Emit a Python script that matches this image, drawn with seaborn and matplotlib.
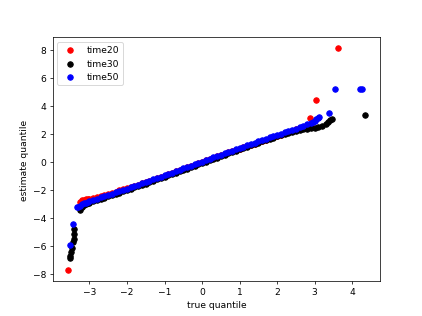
import matplotlib
matplotlib.use("Agg")
import matplotlib.pyplot as plt
import seaborn as sns
import pandas as pd

# shared grid of true quantiles for the dense middle part
x_mid = [-3.0, -2.9, -2.8, -2.7, -2.6, -2.5, -2.4, -2.3, -2.2, -2.1,
         -2.0, -1.9, -1.8, -1.7, -1.6, -1.5, -1.4, -1.3, -1.2, -1.1,
         -1.0, -0.9, -0.8, -0.7, -0.6, -0.5, -0.4, -0.3, -0.2, -0.1,
         0.0, 0.1, 0.2, 0.3, 0.4, 0.5, 0.6, 0.7, 0.8, 0.9,
         1.0, 1.1, 1.2, 1.3, 1.4, 1.5, 1.6, 1.7, 1.8, 1.9,
         2.0, 2.1, 2.2, 2.3, 2.4, 2.5, 2.6, 2.7, 2.8, 2.9]

time50_mid = [-2.80, -2.71, -2.62, -2.53, -2.44, -2.35, -2.26, -2.17, -2.08, -1.99,
              -1.90, -1.81, -1.72, -1.63, -1.53, -1.44, -1.34, -1.25, -1.15, -1.05,
              -0.96, -0.86, -0.76, -0.66, -0.56, -0.46, -0.37, -0.27, -0.17, -0.07,
              0.03, 0.13, 0.23, 0.33, 0.42, 0.52, 0.62, 0.71, 0.81, 0.91,
              1.00, 1.10, 1.19, 1.29, 1.38, 1.48, 1.57, 1.66, 1.75, 1.84,
              1.93, 2.02, 2.11, 2.20, 2.29, 2.38, 2.48, 2.58, 2.70, 2.82]

time20_mid = [-2.62, -2.55, -2.48, -2.41, -2.34, -2.27, -2.19, -2.11, -2.03, -1.95,
              -1.87, -1.79, -1.71, -1.62, -1.53, -1.44, -1.35, -1.26, -1.16, -1.06,
              -0.97, -0.87, -0.77, -0.67, -0.57, -0.47, -0.38, -0.28, -0.18, -0.08,
              0.02, 0.12, 0.21, 0.31, 0.40, 0.50, 0.59, 0.68, 0.78, 0.87,
              0.96, 1.05, 1.14, 1.23, 1.32, 1.41, 1.50, 1.59, 1.68, 1.77,
              1.86, 1.95, 2.04, 2.13, 2.23, 2.33, 2.43, 2.53, 2.62, 2.74]

time30_mid = [-2.90, -2.81, -2.72, -2.63, -2.54, -2.45, -2.36, -2.27, -2.18, -2.09,
              -2.00, -1.91, -1.82, -1.73, -1.63, -1.54, -1.44, -1.35, -1.25, -1.15,
              -1.06, -0.96, -0.86, -0.76, -0.66, -0.56, -0.47, -0.37, -0.27, -0.17,
              -0.07, 0.03, 0.13, 0.23, 0.32, 0.42, 0.52, 0.61, 0.71, 0.81,
              0.90, 1.00, 1.09, 1.19, 1.28, 1.38, 1.47, 1.56, 1.65, 1.74,
              1.83, 1.92, 2.00, 2.08, 2.16, 2.23, 2.29, 2.34, 2.38, 2.42]

# tails of each series
time20_tail_x = [-3.58, -3.25, -3.2, -3.15, -3.1, -3.05, 2.88, 3.05, 3.61]
time20_tail_y = [-7.72, -2.85, -2.75, -2.70, -2.66, -2.64, 3.17, 4.46, 8.12]

time30_tail_x = [-3.53, -3.51, -3.48, -3.46, -3.45, -3.42, -3.42, -3.40, -3.25, -3.2, -3.15, -3.1, -3.05,
                 3.0, 3.1, 3.2, 3.3, 3.36, 3.42, 3.46, 4.35]
time30_tail_y = [-6.88, -6.74, -6.4, -6.16, -5.7, -5.5, -5.15, -4.79, -3.44, -3.2, -3.08, -3.0, -2.95,
                 2.46, 2.52, 2.60, 2.72, 2.85, 2.98, 3.08, 3.39]

time50_tail_x = [-3.51, -3.45, -3.34, -3.30, -3.25, -3.2, -3.15, -3.1, -3.05,
                 2.95, 3.0, 3.05, 3.1, 3.13, 3.38, 3.54, 4.22, 4.27]
time50_tail_y = [-5.91, -4.41, -3.25, -3.20, -3.12, -3.03, -2.96, -2.90, -2.85,
                 2.88, 2.95, 3.05, 3.12, 3.18, 3.48, 5.24, 5.24, 5.24]

series = [("time20", time20_mid, time20_tail_x, time20_tail_y, "red"),
          ("time30", time30_mid, time30_tail_x, time30_tail_y, "black"),
          ("time50", time50_mid, time50_tail_x, time50_tail_y, "blue")]

fig, ax = plt.subplots(figsize=(6.4, 4.8), dpi=66)
for name, mid, tx, ty, col in series:
    df = pd.DataFrame({"true quantile": list(x_mid) + list(tx),
                       "estimate quantile": list(mid) + list(ty)})
    sns.scatterplot(data=df, x="true quantile", y="estimate quantile", ax=ax,
                    color=col, s=36, edgecolor=col, linewidth=1.0, label=name)

ax.legend(loc="upper left")
ax.set_xlabel("true quantile")
ax.set_ylabel("estimate quantile")
fig.savefig("out.png", dpi=66)
